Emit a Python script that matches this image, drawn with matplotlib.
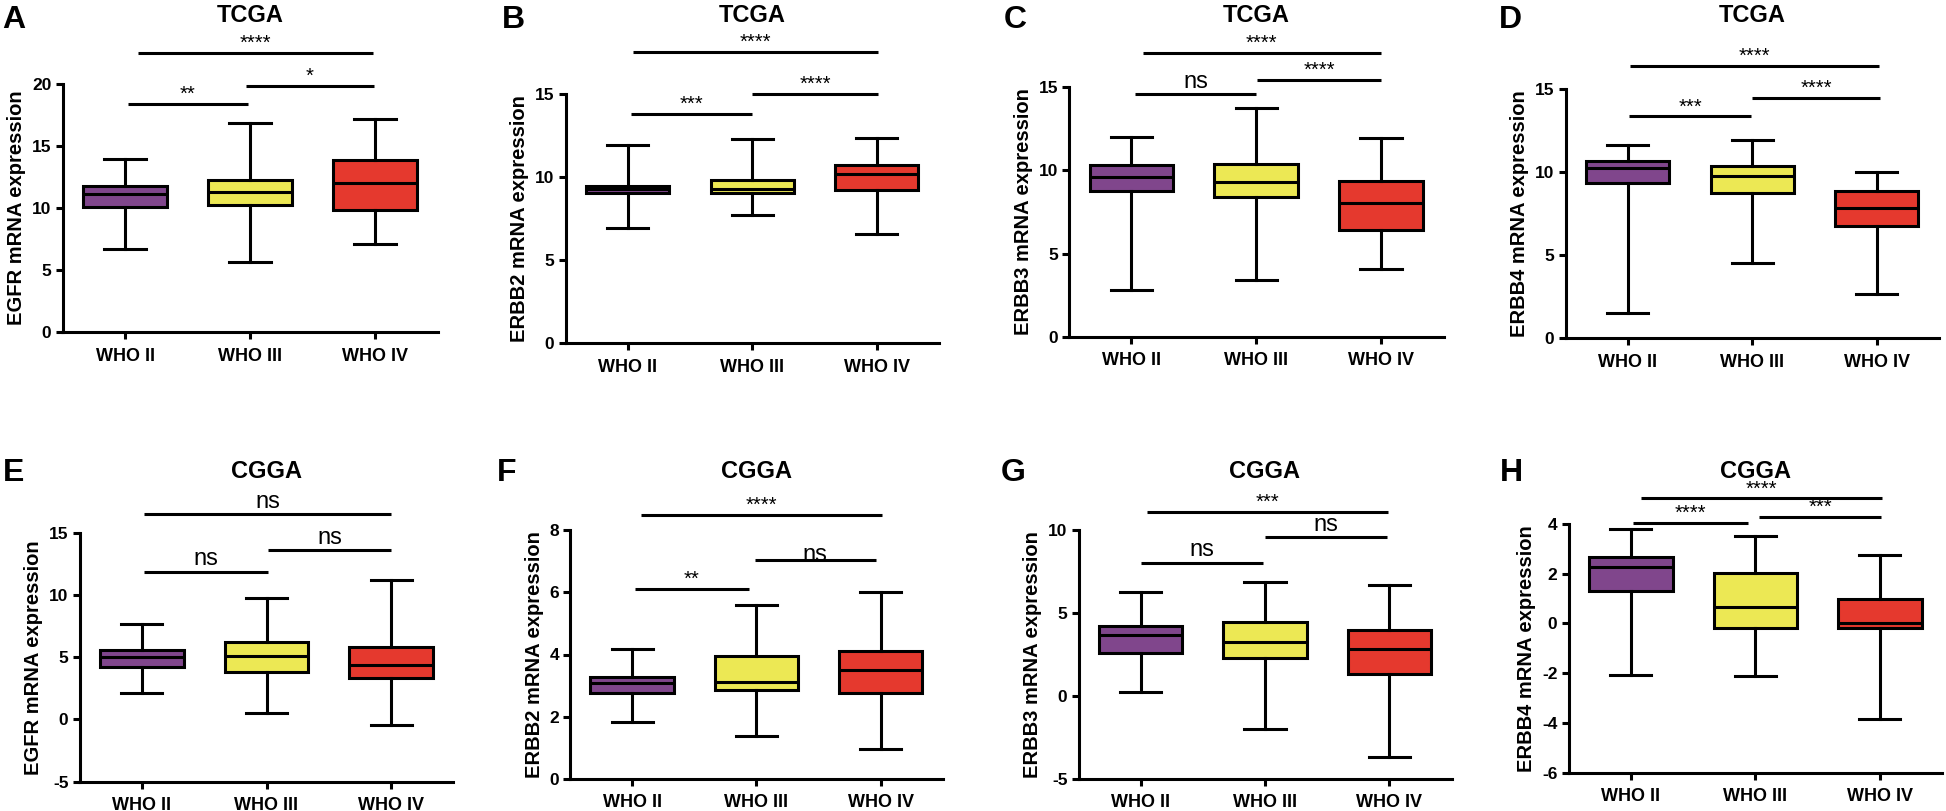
import matplotlib
matplotlib.use("Agg")
import matplotlib.pyplot as plt

plt.rcParams['font.family'] = ['Liberation Sans', 'DejaVu Sans']
plt.rcParams['axes.unicode_minus'] = False

groups = ["WHO II", "WHO III", "WHO IV"]
colors = ["#80468C", "#ECE854", "#E5392E"]

# five-number summaries per group: [low whisker, Q1, median, Q3, high whisker]
A_stats = [[6.69, 10.07, 11.14, 11.79, 13.99],
           [5.64, 10.26, 11.30, 12.25, 16.86],
           [7.14, 9.86, 12.03, 13.86, 17.19]]
B_stats = [[6.96, 9.04, 9.31, 9.49, 11.93],
           [7.75, 9.04, 9.31, 9.86, 12.33],
           [6.58, 9.22, 10.18, 10.76, 12.35]]
C_stats = [[2.83, 8.76, 9.58, 10.33, 12.03],
           [3.39, 8.38, 9.32, 10.37, 13.77],
           [4.07, 6.43, 8.02, 9.38, 11.95]]
D_stats = [[1.51, 9.36, 10.26, 10.66, 11.63],
           [4.52, 8.75, 9.78, 10.36, 11.93],
           [2.65, 6.75, 7.87, 8.89, 10.04]]
E_stats = [[2.13, 4.24, 5.02, 5.58, 7.67],
           [0.55, 3.84, 5.12, 6.25, 9.73],
           [-0.44, 3.31, 4.35, 5.80, 11.23]]
F_stats = [[1.84, 2.76, 3.08, 3.28, 4.19],
           [1.39, 2.85, 3.13, 3.95, 5.59],
           [0.95, 2.76, 3.50, 4.11, 6.00]]
G_stats = [[0.24, 2.59, 3.67, 4.20, 6.28],
           [-2.00, 2.27, 3.25, 4.46, 6.85],
           [-3.66, 1.33, 2.83, 3.99, 6.70]]
H_stats = [[-2.07, 1.30, 2.26, 2.68, 3.81],
           [-2.12, -0.19, 0.68, 2.04, 3.50],
           [-3.83, -0.18, 0.02, 0.99, 2.74]]

# significance brackets: (x start, x end, y, label)
A_sig = [(0.02, 0.98, 18.42, "**"), (0.97, 1.99, 19.82, "*"), (0.10, 1.98, 22.5, "****")]
B_sig = [(0.03, 1.00, 13.8, "***"), (1.00, 2.01, 15.04, "****"), (0.04, 2.01, 17.53, "****")]
C_sig = [(0.03, 1.00, 14.6, "ns"), (1.01, 2.00, 15.44, "****"), (0.09, 2.00, 17.08, "****")]
D_sig = [(0.01, 0.99, 13.37, "***"), (1.00, 2.03, 14.49, "****"), (0.02, 2.02, 16.4, "****")]
E_sig = [(0.02, 1.01, 11.87, "ns"), (1.01, 2.00, 13.59, "ns"), (0.02, 2.00, 16.48, "ns")]
F_sig = [(0.02, 0.94, 6.11, "**"), (0.99, 1.96, 7.03, "ns"), (0.07, 2.01, 8.49, "****")]
G_sig = [(0.00, 0.98, 8.03, "ns"), (1.00, 1.98, 9.56, "ns"), (0.05, 1.99, 11.1, "***")]
H_sig = [(0.02, 0.94, 4.04, "****"), (1.03, 2.01, 4.28, "***"), (0.08, 2.02, 5.03, "****")]

ylabels = ["EGFR mRNA expression", "ERBB2 mRNA expression",
           "ERBB3 mRNA expression", "ERBB4 mRNA expression"]
letters = list("ABCDEFGH")
titles = ["TCGA"] * 4 + ["CGGA"] * 4
ylims = [(0, 20), (0, 15), (0, 15), (0, 15), (-5, 15), (0, 8), (-5, 10), (-6, 4)]
yticks = [[0, 5, 10, 15, 20], [0, 5, 10, 15], [0, 5, 10, 15], [0, 5, 10, 15],
          [-5, 0, 5, 10, 15], [0, 2, 4, 6, 8], [-5, 0, 5, 10], [-6, -4, -2, 0, 2, 4]]
all_stats = [A_stats, B_stats, C_stats, D_stats, E_stats, F_stats, G_stats, H_stats]
all_sig = [A_sig, B_sig, C_sig, D_sig, E_sig, F_sig, G_sig, H_sig]

W, H = 1946, 811
fig = plt.figure(figsize=(W / 100, H / 100), dpi=100)

# axes frames in pixels: left, right, top, bottom
rects = [(62.5, 437.5, 84, 332.3), (565.5, 939, 94.3, 343.3),
         (1069, 1443.5, 87.3, 336.7), (1565.5, 1939, 89.3, 338.3),
         (79.5, 453.5, 532.7, 781.7), (570, 942.7, 530, 779),
         (1078.5, 1451.5, 530, 779), (1568.5, 1942.2, 524, 772.7)]
letter_pos = [(2, 5), (502, 5), (1004, 5), (1499, 5),
              (3, 458), (497, 458), (1001, 458), (1500, 458)]
lw = 2.2

for k in range(8):
    l, r, t, b = rects[k]
    ax = fig.add_axes([l / W, 1 - b / H, (r - l) / W, (b - t) / H])
    stats = []
    for g, s in zip(groups, all_stats[k]):
        stats.append(dict(label=g, whislo=s[0], q1=s[1], med=s[2], q3=s[3], whishi=s[4], fliers=[]))
    bp = ax.bxp(stats, positions=[0, 1, 2], widths=0.67, capwidths=0.33,
                patch_artist=True, showfliers=False,
                boxprops=dict(linewidth=lw, edgecolor='black'),
                medianprops=dict(color='black', linewidth=lw),
                whiskerprops=dict(color='black', linewidth=lw),
                capprops=dict(color='black', linewidth=lw))
    for patch, c in zip(bp['boxes'], colors):
        patch.set_facecolor(c)
    ax.set_xlim(-0.5, 2.5)
    ax.set_ylim(*ylims[k])
    ax.set_yticks(yticks[k])
    ax.set_xticks([0, 1, 2])
    ax.set_xticklabels(groups, fontsize=13, fontweight='bold')
    for lab in ax.get_yticklabels():
        lab.set_fontsize(12.5)
        lab.set_fontweight('bold')
    for sp in ['top', 'right']:
        ax.spines[sp].set_visible(False)
    for sp in ['left', 'bottom']:
        ax.spines[sp].set_linewidth(lw)
    ax.tick_params(width=lw, length=5, pad=3)
    ax.tick_params(axis='x', pad=6)
    ax.set_ylabel(ylabels[k % 4], fontsize=14.5, fontweight='bold', labelpad=4)
    for (x0, x1, y, lab) in all_sig[k]:
        ax.plot([x0, x1], [y, y], color='black', linewidth=lw, clip_on=False,
                solid_capstyle='butt')
        if lab == "ns":
            dy = -4 if k == 5 and x0 > 0.5 else 1
            ax.annotate(lab, ((x0 + x1) / 2, y), xytext=(0, dy), textcoords='offset points',
                        ha='center', va='bottom', fontsize=17, annotation_clip=False)
        else:
            ax.annotate(lab, ((x0 + x1) / 2, y), xytext=(0, 0), textcoords='offset points',
                        ha='center', va='bottom', fontsize=14.5, annotation_clip=False)
    cx = (l + r) / 2 / W
    ty = 15 if k < 4 else 471
    fig.text(cx, 1 - ty / H, titles[k], ha='center', va='center', fontsize=17, fontweight='bold')
    lx, ly = letter_pos[k]
    fig.text(lx / W, 1 - ly / H, letters[k], ha='left', va='top', fontsize=23, fontweight='bold')

fig.savefig("out.png", dpi=100)
